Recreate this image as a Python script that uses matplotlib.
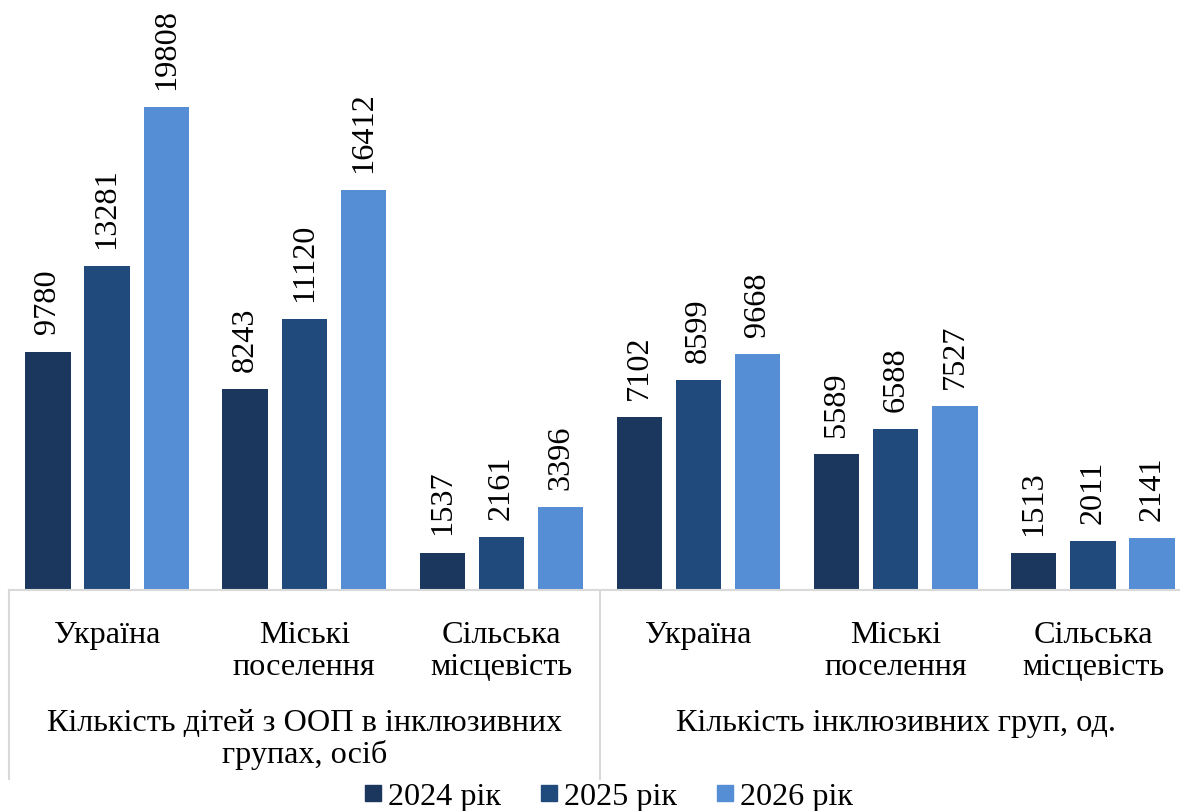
import matplotlib
matplotlib.use("Agg")
from matplotlib import pyplot as plt
from matplotlib import transforms
from matplotlib.lines import Line2D
import numpy as np

plt.rcParams['font.family'] = ['Liberation Serif', 'DejaVu Serif']

categories = ["Україна", "Міські\nпоселення", "Сільська\nмісцевість",
              "Україна", "Міські\nпоселення", "Сільська\nмісцевість"]
groups = ["Кількість дітей з ООП в інклюзивних\nгрупах, осіб",
          "Кількість інклюзивних груп, од."]
years = ["2024 рік", "2025 рік", "2026 рік"]
v2024 = [9780, 8243, 1537, 7102, 5589, 1513]
v2025 = [13281, 11120, 2161, 8599, 6588, 2011]
v2026 = [19808, 16412, 3396, 9668, 7527, 2141]
colors = ["#1B375E", "#214A7C", "#558ED5"]

W, H = 1180, 812
FS = 23.2
fig = plt.figure(figsize=(W / 100, H / 100), dpi=100)
# axes spans a bit past the right edge like the original
ax = fig.add_axes([8.5 / W, 1 - 591 / H, 1183 / W, 591 / H])
ax.set_xlim(-0.5, 5.5)
ax.set_ylim(0, 24240)
ax.axis("off")

x = np.arange(len(categories))
bw = 0.23
step = 0.3
for k, vals in enumerate([v2024, v2025, v2026]):
    xs = x + (k - 1) * step
    ax.bar(xs, vals, width=bw, color=colors[k], label=years[k])
    for xi, v in zip(xs, vals):
        ax.annotate(str(v), (xi, v), xytext=(0, 13), textcoords="offset points",
                    rotation=90, ha="center", va="bottom", fontsize=FS)

# baseline
ax.axhline(0, color="#D9D9D9", lw=1.5, clip_on=False)

tr = transforms.blended_transform_factory(ax.transData, fig.transFigure)
for sx in [-0.5, 2.5, 5.5]:
    fig.add_artist(Line2D([sx, sx], [1 - 591 / H, 1 - 780 / H], transform=tr,
                          color="#D9D9D9", lw=1.5))

for xi, lab in zip(x, categories):
    fig.text(xi, 1 - 621 / H, lab, transform=tr, ha="center", va="top",
             fontsize=FS, linespacing=1.12)

for gi, g in enumerate(groups):
    fig.text(1 + 3 * gi, 1 - 709 / H, g, transform=tr, ha="center", va="top",
             fontsize=FS, linespacing=1.1)

handles = [Line2D([], [], marker="s", ls="", color=c, markersize=11) for c in colors]
fig.legend(handles, years, loc="center", bbox_to_anchor=(609 / W, 1 - 797 / H),
           ncol=3, frameon=False, fontsize=FS, handletextpad=0.2,
           columnspacing=1.25, handlelength=0.5, borderpad=0, borderaxespad=0)

fig.savefig("out.png", dpi=100)
